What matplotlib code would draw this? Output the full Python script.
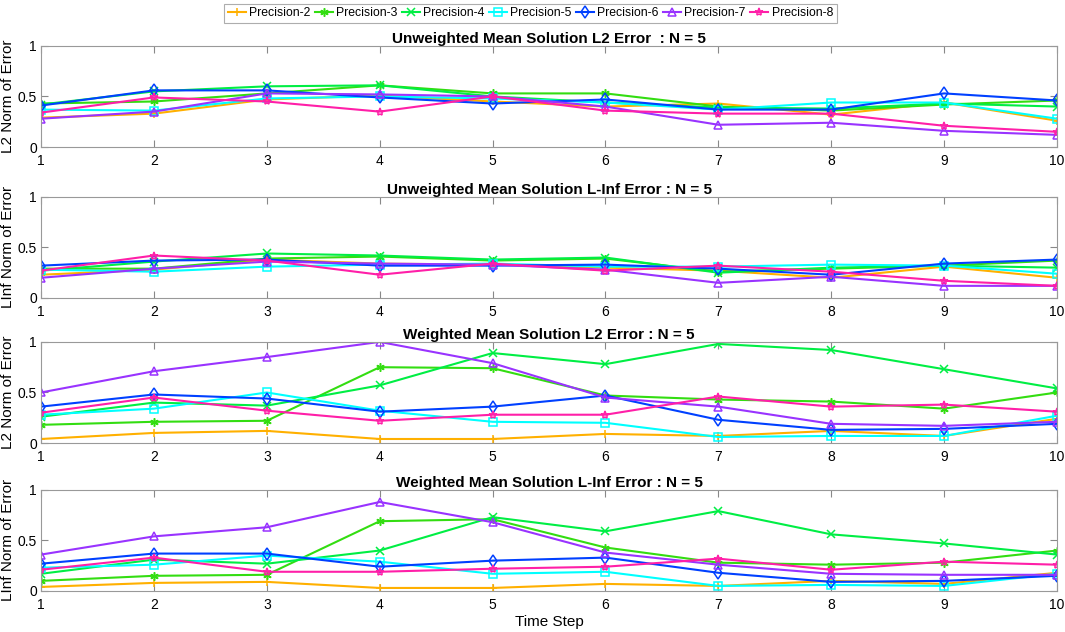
import matplotlib
matplotlib.use('Agg')
import matplotlib.pyplot as plt

plt.rcParams['font.family'] = ['Liberation Sans', 'DejaVu Sans']

steps = [1, 2, 3, 4, 5, 6, 7, 8, 9, 10]
names = ['Precision-2', 'Precision-3', 'Precision-4', 'Precision-5',
         'Precision-6', 'Precision-7', 'Precision-8']

# unweighted mean, L2
unw_l2 = [
    [0.29, 0.33, 0.47, 0.51, 0.45, 0.40, 0.43, 0.32, 0.44, 0.26],
    [0.43, 0.45, 0.53, 0.61, 0.53, 0.53, 0.40, 0.36, 0.42, 0.46],
    [0.42, 0.55, 0.60, 0.61, 0.50, 0.44, 0.39, 0.38, 0.43, 0.40],
    [0.37, 0.36, 0.48, 0.50, 0.48, 0.44, 0.37, 0.44, 0.44, 0.28],
    [0.41, 0.56, 0.56, 0.49, 0.43, 0.47, 0.37, 0.37, 0.53, 0.46],
    [0.28, 0.35, 0.53, 0.52, 0.50, 0.40, 0.22, 0.24, 0.16, 0.12],
    [0.34, 0.49, 0.45, 0.35, 0.50, 0.36, 0.33, 0.33, 0.21, 0.15],
]
# unweighted mean, L-inf
unw_linf = [
    [0.23, 0.28, 0.38, 0.34, 0.33, 0.30, 0.27, 0.20, 0.31, 0.20],
    [0.29, 0.29, 0.39, 0.41, 0.37, 0.39, 0.26, 0.29, 0.32, 0.37],
    [0.27, 0.36, 0.44, 0.42, 0.38, 0.40, 0.25, 0.30, 0.32, 0.30],
    [0.28, 0.26, 0.31, 0.33, 0.34, 0.31, 0.31, 0.33, 0.32, 0.24],
    [0.32, 0.37, 0.38, 0.32, 0.32, 0.33, 0.29, 0.23, 0.34, 0.38],
    [0.20, 0.29, 0.36, 0.34, 0.33, 0.28, 0.15, 0.21, 0.12, 0.12],
    [0.27, 0.42, 0.37, 0.23, 0.34, 0.27, 0.32, 0.26, 0.17, 0.12],
]
# weighted mean, L2
w_l2 = [
    [0.04, 0.10, 0.12, 0.04, 0.04, 0.09, 0.07, 0.12, 0.07, 0.24],
    [0.18, 0.21, 0.22, 0.75, 0.74, 0.47, 0.43, 0.41, 0.34, 0.50],
    [0.26, 0.40, 0.37, 0.57, 0.89, 0.78, 0.98, 0.92, 0.73, 0.54],
    [0.28, 0.34, 0.50, 0.32, 0.21, 0.20, 0.06, 0.07, 0.07, 0.27],
    [0.36, 0.48, 0.44, 0.31, 0.36, 0.47, 0.23, 0.13, 0.14, 0.19],
    [0.50, 0.71, 0.85, 1.00, 0.79, 0.45, 0.36, 0.19, 0.17, 0.21],
    [0.30, 0.45, 0.32, 0.22, 0.28, 0.28, 0.46, 0.36, 0.38, 0.31],
]
# weighted mean, L-inf
w_linf = [
    [0.04, 0.08, 0.09, 0.03, 0.03, 0.07, 0.05, 0.10, 0.07, 0.18],
    [0.10, 0.15, 0.16, 0.69, 0.71, 0.43, 0.28, 0.26, 0.28, 0.40],
    [0.17, 0.31, 0.27, 0.40, 0.73, 0.59, 0.79, 0.56, 0.47, 0.36],
    [0.23, 0.26, 0.35, 0.29, 0.17, 0.19, 0.05, 0.06, 0.05, 0.17],
    [0.27, 0.37, 0.37, 0.24, 0.30, 0.33, 0.18, 0.09, 0.10, 0.15],
    [0.36, 0.54, 0.63, 0.88, 0.68, 0.38, 0.26, 0.17, 0.16, 0.16],
    [0.21, 0.33, 0.19, 0.19, 0.22, 0.24, 0.32, 0.21, 0.29, 0.26],
]

titles = ['Unweighted Mean Solution L2 Error  : N = 5',
          'Unweighted Mean Solution L-Inf Error : N = 5',
          'Weighted Mean Solution L2 Error : N = 5',
          'Weighted Mean Solution L-Inf Error : N = 5']
ylabels = ['L2 Norm of Error', 'LInf Norm of Error',
           'L2 Norm of Error', 'LInf Norm of Error']

colors = ['#ffb000', '#33dd11', '#00ee44', '#00ffff', '#0040ff', '#9933ff', '#ff1fa8']
markers = ['+', (6, 2, 0), 'x', 's', 'd', '^', '*']

fig = plt.figure(figsize=(10.65, 6.32), dpi=100)
bottoms = [0.7674, 0.5285, 0.299, 0.0649]
panels = [unw_l2, unw_linf, w_l2, w_linf]

for k in range(4):
    ax = fig.add_axes([0.0385, bottoms[k], 0.954, 0.160])
    for i in range(7):
        ax.plot(steps, panels[k][i], color=colors[i], marker=markers[i],
                markersize=6, markerfacecolor='none', markeredgewidth=1.1,
                linewidth=1.5, label=names[i])
    ax.set_xlim(1, 10)
    ax.set_ylim(0, 1)
    ax.set_xticks(steps)
    ax.set_yticks([0, 0.5, 1])
    ax.set_yticklabels(['0', '0.5', '1'])
    ax.tick_params(direction='in', top=True, right=True, length=5,
                   labelsize=10, color='#888888', pad=3)
    ax.tick_params(axis='x', pad=5)
    for s in ax.spines.values():
        s.set_color('#999999')
    ax.set_title(titles[k], fontsize=11, fontweight='bold', pad=2)
    ax.set_ylabel(ylabels[k], fontsize=11, labelpad=2)
    if k == 3:
        ax.set_xlabel('Time Step', fontsize=11, labelpad=2)
    if k == 0:
        h, l = ax.get_legend_handles_labels()

leg = fig.legend(h, l, loc='center', bbox_to_anchor=(0.498, 0.979), ncol=7,
                 fontsize=8.8, frameon=True, fancybox=False, handlelength=1.5,
                 handletextpad=0.25, columnspacing=0.35, borderpad=0.3,
                 borderaxespad=0)
leg.get_frame().set_edgecolor('#999999')
leg.get_frame().set_linewidth(0.8)

fig.savefig('out.png', dpi=100)
